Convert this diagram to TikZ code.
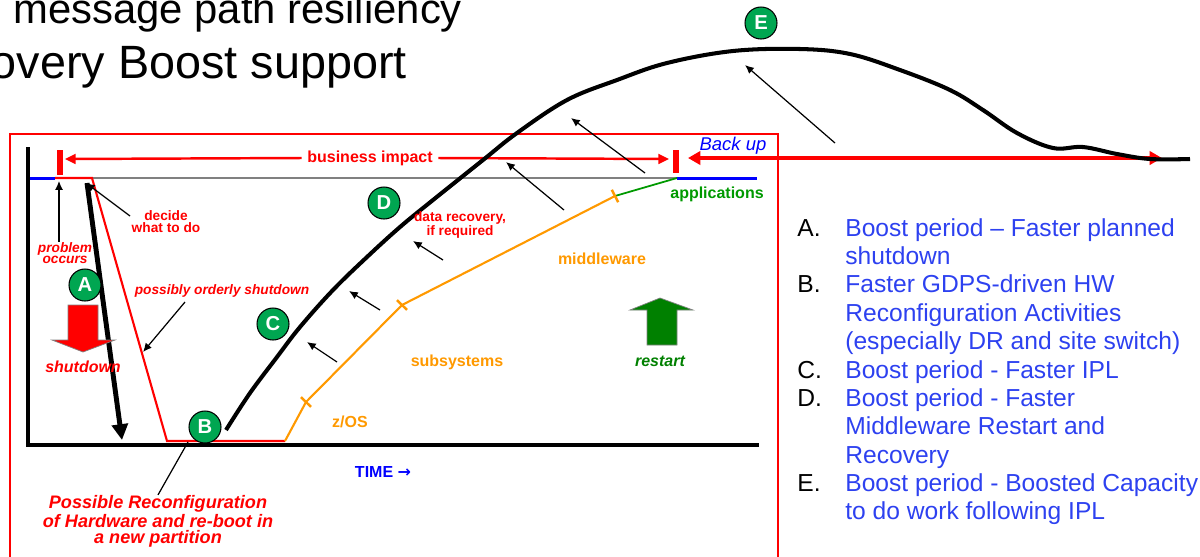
\documentclass[tikz,border=0pt]{standalone}
\usepackage{fontspec}
\setmainfont{Liberation Sans}
\newfontfamily\arrowfont{DejaVu Sans}
\usetikzlibrary{calc}
\usetikzlibrary{arrows.meta}
\definecolor{ibmred}{RGB}{255,0,0}
\definecolor{ibmorange}{RGB}{255,153,0}
\definecolor{appgreen}{RGB}{0,153,0}
\definecolor{restartgreen}{RGB}{0,128,0}
\definecolor{badgegreen}{RGB}{0,166,81}
\definecolor{listblue}{RGB}{45,65,240}
\tikzset{>=latex}
\tikzset{
  axisline/.style={line width=2.3pt, line cap=rect},
  redpath/.style={draw=ibmred, line width=1.2pt},
  orangepath/.style={draw=ibmorange, line width=1.2pt},
  tickline/.style={draw=ibmorange, line width=1.4pt},
  redbar/.style={draw=ibmred, line width=3.4pt},
  thinarrow/.style={-{Latex[length=5pt,width=4.5pt]}, line width=0.7pt},
  badge/.style={circle, draw=black, line width=0.6pt, fill=badgegreen,
    text=white, minimum size=0.64cm, inner sep=0pt,
    font=\fontsize{11.5}{11.5}\selectfont\bfseries},
  lbl/.style={inner sep=0pt, font=\fontsize{9.1}{10}\selectfont\bfseries},
  lblit/.style={inner sep=0pt, font=\fontsize{9.1}{10}\selectfont\bfseries\itshape},
  smalllbl/.style={inner sep=0pt, align=center,
    font=\fontsize{7.8}{6.8}\selectfont\bfseries},
  smalllblit/.style={inner sep=0pt, align=center,
    font=\fontsize{7.8}{6.6}\selectfont\bfseries\itshape},
  listtext/.style={inner sep=0pt, anchor=base west, text=listblue,
    font=\fontsize{14}{16}\selectfont},
  listletter/.style={inner sep=0pt, anchor=base west,
    font=\fontsize{14}{16}\selectfont},
}

\begin{document}
\begin{tikzpicture}[x=0.02cm,y=-0.02cm]
  \useasboundingbox (0,0) rectangle (1200,556);
  \clip (0,0) rectangle (1200,556);

  % heading, cut by the page edge
  \node [anchor=base west,inner sep=0pt,font=\fontsize{23.8}{24}\selectfont]
  (title1) at (13,23) {message path resiliency};
  \node [anchor=base east,inner sep=0pt,font=\fontsize{26.6}{27}\selectfont]
  (title2) at (407,78) {Recovery Boost support};

  \draw [ibmred,line width=0.6pt] (10,134) rectangle (778,600);

  \coordinate (yaxtop) at (28,149);
  \coordinate (orig) at (28,445);
  \coordinate (xaxend) at (757,445);
  \coordinate (start) at (30,178);
  \coordinate (prob) at (55,178);
  \coordinate (decided) at (92,178);
  \coordinate (down) at (167,441);
  \coordinate (up) at (285,441);
  \coordinate (o1) at (306,402);
  \coordinate (o2) at (402,305);
  \coordinate (o3) at (615,196);
  \coordinate (appsup) at (677,178);
  \coordinate (appsend) at (757,178);

  \draw [gray,line width=0.6pt] (decided) -- (appsup);
  \draw [axisline] (yaxtop) -- (orig) -- (xaxend);

  \draw [blue,line width=1.7pt] (start) -- (prob);
  \draw [blue,line width=1.7pt] (appsup) -- (appsend);
  \draw [redpath] (prob) -- (decided) -- (down) -- (up);
  \draw [orangepath] (up) -- (o1) -- (o2) -- (o3);
  \draw [appgreen,line width=1pt] (o3) -- (appsup);

  \draw [tickline] ($(o1)!0.14cm!90:(o2)$) -- ($(o1)!0.14cm!-90:(o2)$);
  \draw [tickline] ($(o2)!0.14cm!90:(o1)$) -- ($(o2)!0.14cm!-90:(o1)$);
  \draw [tickline] ($(o3)!0.14cm!90:(o2)$) -- ($(o3)!0.14cm!-90:(o2)$);

  % business impact
  \draw [redbar] (60,150) -- (60,175);
  \draw [redbar] (676,150) -- (676,173);
  \node [lbl,text=ibmred,inner xsep=3pt] (impact) at (370,158) {business impact};
  \coordinate (impl) at (65,159);
  \coordinate (impr) at (669,159);
  \draw [ibmred,line width=1.4pt,-{Triangle[length=6pt,width=5.5pt]}]
  (impact.west) -- (impl);
  \draw [ibmred,line width=1.4pt,-{Triangle[length=6pt,width=5.5pt]}]
  (impact.east) -- (impr);

  \coordinate (bkl) at (688,158);
  \coordinate (bkr) at (1162,158);
  \draw [ibmred,line width=2.8pt,
  {Triangle[length=7pt,width=7.5pt]}-{Triangle[length=7pt,width=7.5pt]}]
  (bkl) -- (bkr);
  \node [inner sep=0pt,text=blue,font=\fontsize{10.5}{11}\selectfont\itshape]
  (backup) at (733,146) {Back up};

  % capacity curve
  \draw [line width=2.3pt] plot [smooth,tension=0.6] coordinates {
    (226,430) (250,393) (277,357) (300,327) (333,290) (367,257) (400,227)
    (433,200) (483,160) (517,133) (567,100) (617,80) (667,63) (733,51)
    (800,49) (850,54) (900,70) (950,90) (983,110) (1017,133) (1053,148)
    (1083,147) (1117,154) (1150,159) (1190,159)};

  \foreach \ax/\ay/\bx/\by [count=\i] in {337/362/307/342, 380/310/349/291,
    443/260/413/241, 564/210/506/162, 645/173/571/118, 835/143/745/65} {
    \coordinate (f\i) at (\ax,\ay);
    \coordinate (t\i) at (\bx,\by);
    \draw [thinarrow] (f\i) -- (t\i);
  }

  % shutdown
  \coordinate (shutfrom) at (87,183);
  \coordinate (shutto) at (122,440);
  \draw [line width=2.8pt,-{Triangle[length=9pt,width=9pt]}] (shutfrom) -- (shutto);

  \draw [fill=ibmred,draw=gray,line width=0.4pt] (68,305) -- (98,305) -- (98,340)
  -- (115,340) -- (83,352) -- (52,340) -- (68,340) -- cycle;
  \draw [fill=restartgreen,draw=gray,line width=0.4pt] (647,345) -- (677,345)
  -- (677,310) -- (693,310) -- (660,298) -- (630,310) -- (647,310) -- cycle;

  % labels
  \node [lbl,text=appgreen] (apps) at (717,194) {applications};
  \node [smalllbl,text=ibmred] (decide) at (166,222) {decide\\what to do};
  \node [smalllblit,text=ibmred] (problem) at (65,253) {problem\\occurs};
  \node [smalllblit,text=ibmred] (orderly) at (222,291) {possibly orderly shutdown};
  \node [lblit,text=ibmred] (shutlbl) at (83,367) {shutdown};
  \node [smalllbl,text=ibmred] (datarec) at (460,225) {data recovery,\\if required};
  \node [lbl,text=ibmorange] (middle) at (602,259) {middleware};
  \node [lbl,text=ibmorange] (subsys) at (457,362) {subsystems};
  \node [lbl,text=ibmorange] (zos) at (350,422) {z/OS};
  \node [lblit,text=restartgreen] (restartlbl) at (660,361) {restart};
  \node [lbl,text=blue] (time) at (383,472) {TIME {\arrowfont\bfseries →}};
  \node [inner sep=0pt,align=center,text=ibmred,
  font=\fontsize{10.3}{9.1}\selectfont\bfseries\itshape]
  (reconf) at (158,521) {Possible Reconfiguration\\of Hardware and re-boot in\\a new partition};

  \coordinate (probpt) at (59,181);
  \draw [thinarrow] (problem.north -| probpt) -- (probpt);
  \coordinate (decidefrom) at (130,216);
  \coordinate (decidept) at (86,183);
  \draw [thinarrow] (decidefrom) -- (decidept);
  \coordinate (orderlyfrom) at (185,302);
  \coordinate (orderlypt) at (143,352);
  \draw [thinarrow] (orderlyfrom) -- (orderlypt);
  \coordinate (rebootpt) at (188,442);
  \draw [line width=0.7pt] (reconf.north) -- (rebootpt);

  % step badges
  \node [badge] (badgeA) at (85,285) {A};
  \node [badge] (badgeB) at (205,427) {B};
  \node [badge] (badgeC) at (273,324) {C};
  \node [badge] (badgeD) at (384,203) {D};
  \node [badge] (badgeE) at (761,23) {E};

  % legend
  \foreach \l/\yy in {A/236,B/292,C/378,D/406,E/491}
    \node [listletter] (item\l) at (797,\yy) {\l.};
  \foreach \yy/\txt [count=\n] in {236/{Boost period – Faster planned},
    264/shutdown, 292/{Faster GDPS-driven HW}, 321/{Reconfiguration Activities},
    349/{(especially DR and site switch)}, 378/{Boost period - Faster IPL},
    406/{Boost period - Faster}, 434/{Middleware Restart and}, 463/Recovery,
    491/{Boost period - Boosted Capacity}, 519/{to do work following IPL}}
    \node [listtext] (line\n) at (845,\yy) {\txt};
\end{tikzpicture}
\end{document}
